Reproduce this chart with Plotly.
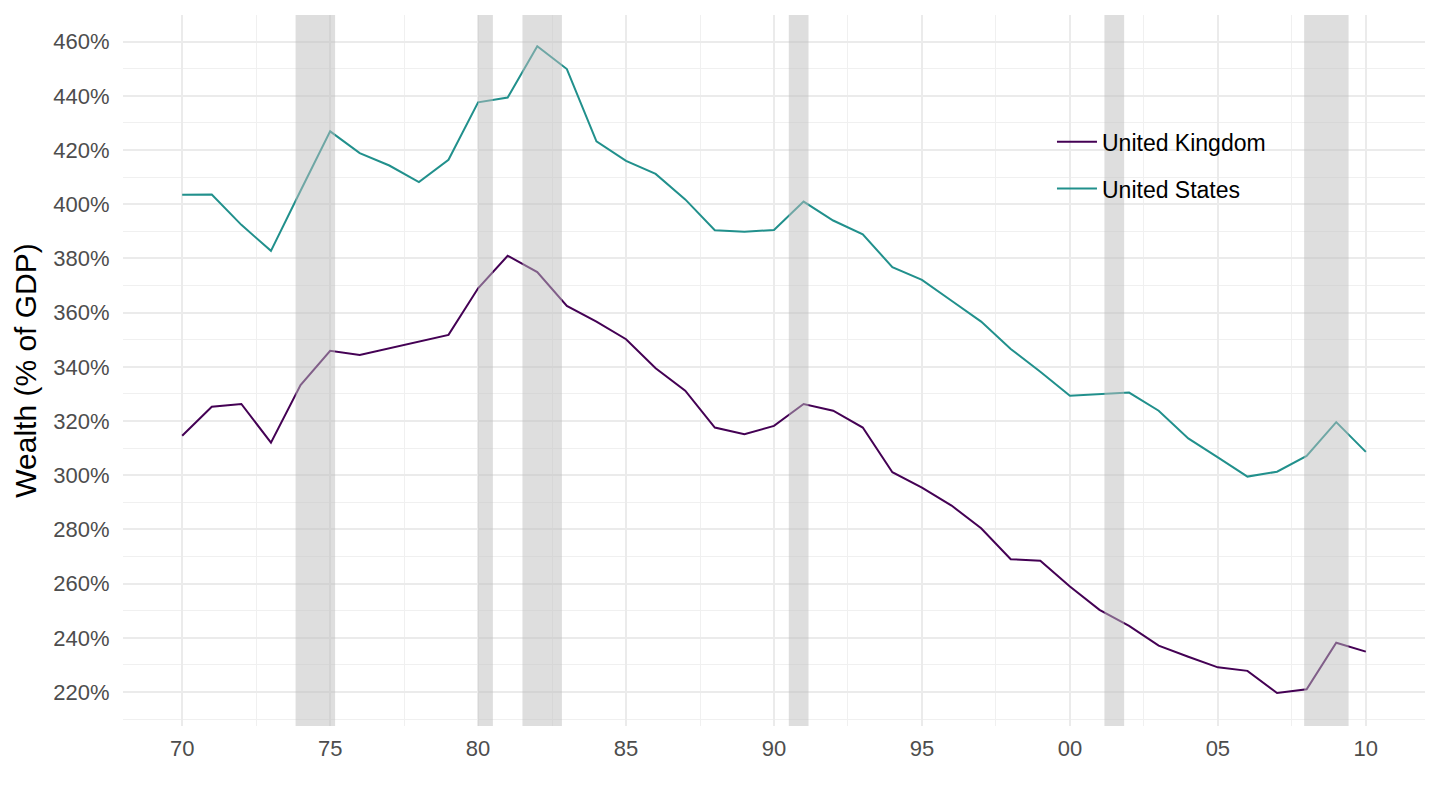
import plotly.graph_objects as go

years = list(range(1970, 2011))

uk_wealth = [314.6, 325.3, 326.3, 312.0, 333.3, 345.9, 344.4, 346.9, 349.3, 351.8,
             369.0, 381.0, 375.0, 362.5, 356.7, 350.2, 339.5, 331.2, 317.6, 315.1,
             318.2, 326.3, 323.8, 317.6, 301.1, 295.4, 288.8, 280.4, 269.0, 268.4,
             258.9, 250.3, 244.4, 237.1, 233.0, 229.1, 227.8, 219.6, 221.0, 238.2,
             234.9]

us_wealth = [403.5, 403.6, 392.4, 382.8, 405.0, 426.9, 418.9, 414.3, 408.2, 416.4,
             437.6, 439.4, 458.3, 449.9, 423.2, 416.0, 411.2, 401.8, 390.4, 389.9,
             390.5, 401.0, 394.0, 388.9, 376.8, 372.1, 364.4, 356.7, 346.6, 338.2,
             329.3, 329.9, 330.5, 323.8, 313.6, 306.6, 299.5, 301.3, 307.1, 319.6,
             308.6]

# NBER recessions, decimal years
rec_start = [1973.833, 1980.0, 1981.5, 1990.5, 2001.167, 2007.917]
rec_end = [1975.167, 1980.5, 1982.833, 1991.167, 2001.833, 2009.417]

x_ticks = [1970, 1975, 1980, 1985, 1990, 1995, 2000, 2005, 2010]
x_labels = ["70", "75", "80", "85", "90", "95", "00", "05", "10"]

fig = go.Figure()
fig.add_trace(go.Scatter(x=years, y=uk_wealth, mode="lines", name="United Kingdom",
                         legendgroup="uk", line=dict(color="#440154", width=2)))
fig.add_trace(go.Scatter(x=years, y=us_wealth, mode="lines", name="United States",
                         legendgroup="us", line=dict(color="#21908C", width=2)))

for s, e in zip(rec_start, rec_end):
    fig.add_vrect(x0=s, x1=e, fillcolor="rgb(190,190,190)", opacity=0.5,
                  line_width=0, layer="above")

fig.update_layout(
    width=1440, height=810,
    margin=dict(l=123, r=15, t=15, b=84),
    plot_bgcolor="white", paper_bgcolor="white",
    font=dict(family="Liberation Sans, Arial, sans-serif", color="#4D4D4D", size=22),
    legend=dict(x=0.7135, y=0.852, xanchor="left", yanchor="top",
                bgcolor="rgba(0,0,0,0)", font=dict(size=23, color="black"),
                traceorder="grouped", tracegroupgap=14, itemwidth=40),
    showlegend=True,
)

fig.update_xaxes(
    range=[1968, 2012], tickvals=x_ticks, ticktext=x_labels, automargin=False,
    showgrid=True, gridcolor="#EBEBEB", gridwidth=1.6, zeroline=False,
    ticks="outside", ticklen=3, tickcolor="rgba(0,0,0,0)",
    minor=dict(dtick=2.5, tick0=1970, showgrid=True, gridcolor="#F0F0F0", gridwidth=0.9),
)
fig.update_yaxes(
    range=[207.45, 469.85], dtick=20, tick0=0, ticksuffix="%", automargin=False,
    showgrid=True, gridcolor="#EBEBEB", gridwidth=1.6, zeroline=False,
    ticks="outside", ticklen=8, tickcolor="rgba(0,0,0,0)",
    minor=dict(dtick=10, tick0=0, showgrid=True, gridcolor="#F0F0F0", gridwidth=0.9),
    title=dict(text="Wealth (% of GDP)", font=dict(size=30, color="black"), standoff=7),
)

fig.write_html("out.html", config={"displayModeBar": False},
               post_script="document.body.style.margin='0';")
